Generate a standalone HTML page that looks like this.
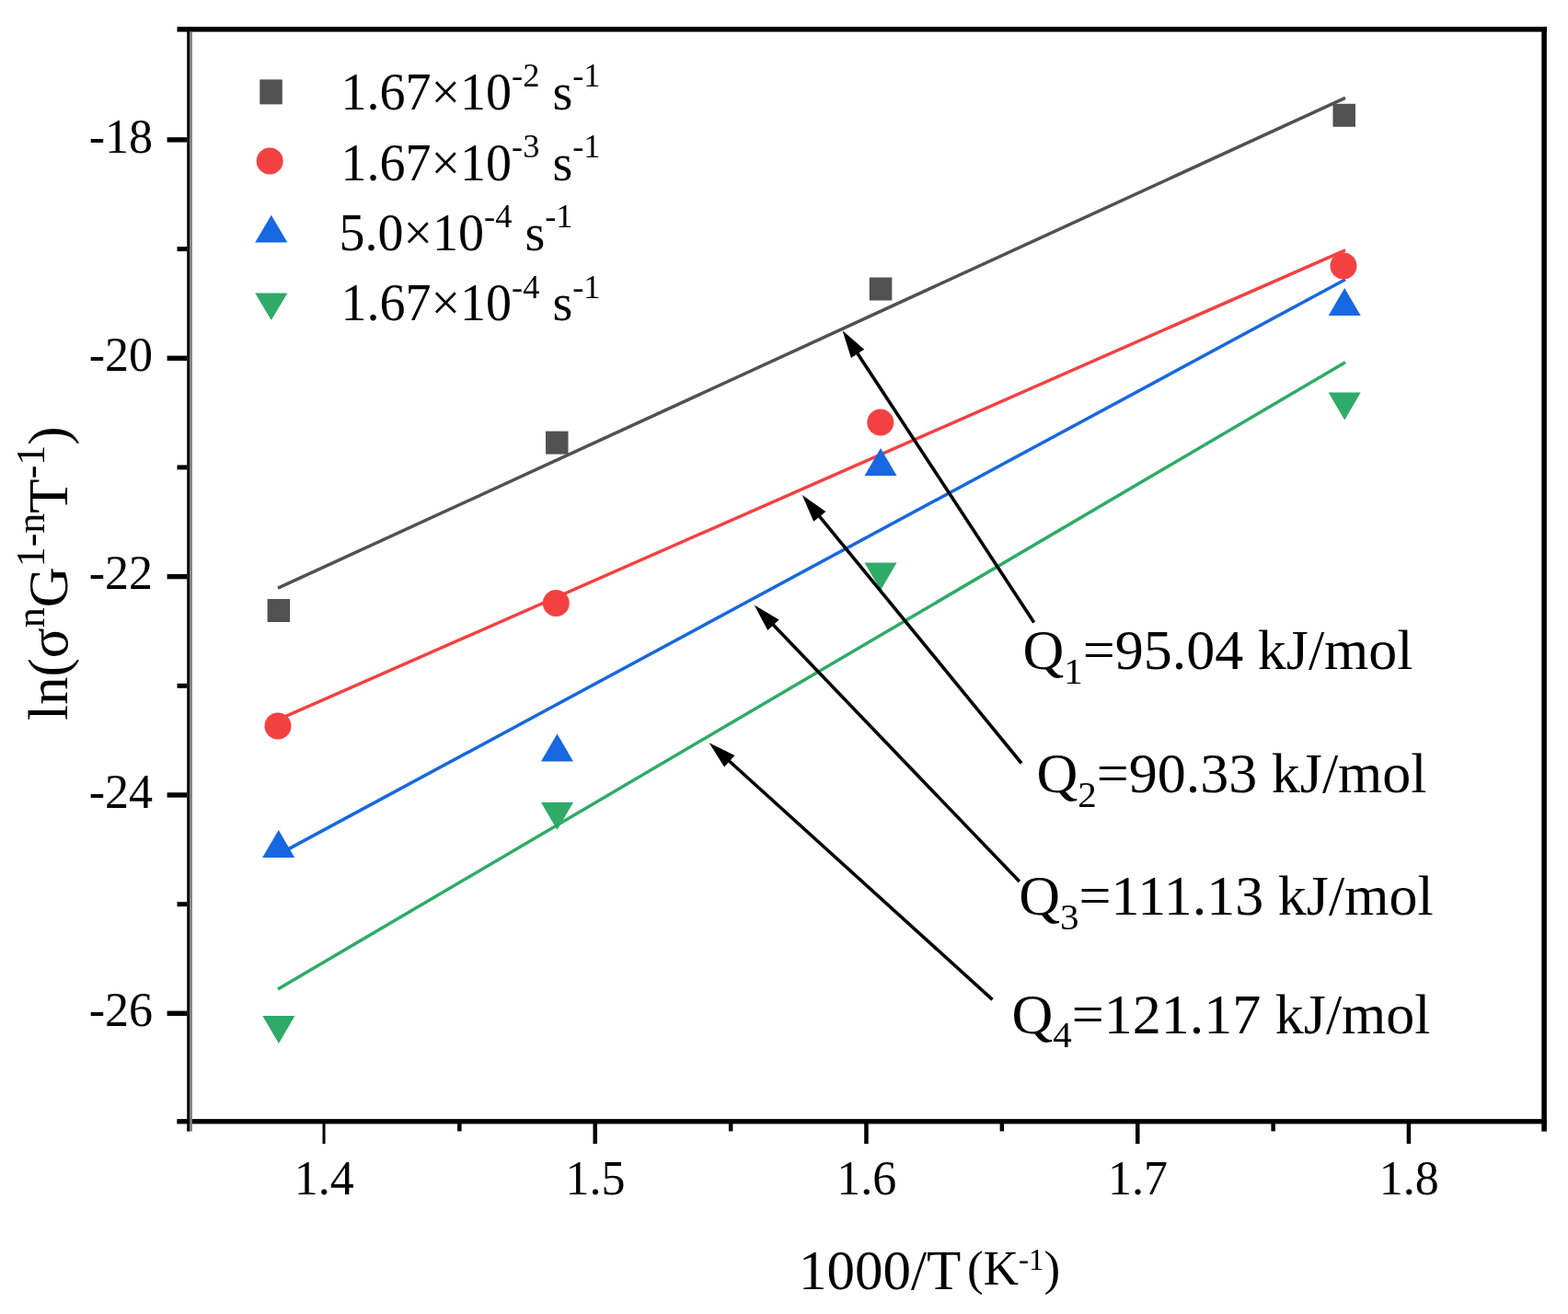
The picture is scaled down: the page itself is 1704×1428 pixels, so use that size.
<!DOCTYPE html>
<html><head><meta charset="utf-8"><title>ln plot</title>
<style>html,body{margin:0;padding:0;background:#fff;width:1704px;height:1428px;overflow:hidden;} svg{display:block;}</style>
</head><body>
<svg width="1704" height="1428" viewBox="0 0 1704 1428">
<rect width="1704" height="1428" fill="#fff"/>
<rect x="192.5" y="29.1" width="1488.5" height="5.5" fill="#000"/>
<rect x="192.3" y="1216.1" width="1488.7" height="5.3" fill="#000"/>
<rect x="203.2" y="29.1" width="2.9" height="1200.5" fill="#000"/>
<rect x="206.1" y="34.6" width="2.8" height="1195.0" fill="#808080"/>
<rect x="1675.3" y="29.1" width="5.6" height="1200.5" fill="#000"/>
<rect x="181.6" y="1098.6" width="21.6" height="5.4" fill="#000"/>
<rect x="192.5" y="980.2" width="10.7" height="5" fill="#000"/>
<rect x="181.6" y="861.3" width="21.6" height="5.4" fill="#000"/>
<rect x="192.5" y="742.8" width="10.7" height="5" fill="#000"/>
<rect x="181.6" y="623.9" width="21.6" height="5.4" fill="#000"/>
<rect x="192.5" y="505.4" width="10.7" height="5" fill="#000"/>
<rect x="181.6" y="386.6" width="21.6" height="5.4" fill="#000"/>
<rect x="192.5" y="268.1" width="10.7" height="5" fill="#000"/>
<rect x="181.6" y="149.2" width="21.6" height="5.4" fill="#000"/>
<rect x="350.5" y="1221" width="3" height="22" fill="#000"/>
<rect x="497.1" y="1221" width="4.5" height="8.4" fill="#000"/>
<rect x="644.5" y="1221" width="4.5" height="22" fill="#000"/>
<rect x="791.9" y="1221" width="4.5" height="8.4" fill="#000"/>
<rect x="939.2" y="1221" width="4.5" height="22" fill="#000"/>
<rect x="1086.6" y="1221" width="4.5" height="8.4" fill="#000"/>
<rect x="1234.0" y="1221" width="4.5" height="22" fill="#000"/>
<rect x="1381.4" y="1221" width="4.5" height="8.4" fill="#000"/>
<rect x="1528.7" y="1221" width="4.5" height="22" fill="#000"/>
<text x="166" y="165.5" text-anchor="end" font-family='"Liberation Serif", serif' font-size="52" fill="#000">-18</text>
<text x="166" y="402.9" text-anchor="end" font-family='"Liberation Serif", serif' font-size="52" fill="#000">-20</text>
<text x="166" y="640.2" text-anchor="end" font-family='"Liberation Serif", serif' font-size="52" fill="#000">-22</text>
<text x="166" y="877.6" text-anchor="end" font-family='"Liberation Serif", serif' font-size="52" fill="#000">-24</text>
<text x="166" y="1114.9" text-anchor="end" font-family='"Liberation Serif", serif' font-size="52" fill="#000">-26</text>
<text x="352.2" y="1297.5" text-anchor="middle" font-family='"Liberation Serif", serif' font-size="52" fill="#000">1.4</text>
<text x="647.0" y="1297.5" text-anchor="middle" font-family='"Liberation Serif", serif' font-size="52" fill="#000">1.5</text>
<text x="941.7" y="1297.5" text-anchor="middle" font-family='"Liberation Serif", serif' font-size="52" fill="#000">1.6</text>
<text x="1236.5" y="1297.5" text-anchor="middle" font-family='"Liberation Serif", serif' font-size="52" fill="#000">1.7</text>
<text x="1531.2" y="1297.5" text-anchor="middle" font-family='"Liberation Serif", serif' font-size="52" fill="#000">1.8</text>
<line x1="302" y1="639.2" x2="1462" y2="106.3" stroke="#515151" stroke-width="3.5"/>
<line x1="302" y1="782.2" x2="1462" y2="271.8" stroke="#F34141" stroke-width="3.5"/>
<line x1="302" y1="928.9" x2="1462" y2="303.8" stroke="#1768E0" stroke-width="3.5"/>
<line x1="302" y1="1074.9" x2="1462" y2="393.7" stroke="#2EAB68" stroke-width="3.5"/>
<rect x="290.6" y="651.0" width="24.5" height="25" fill="#515151"/>
<rect x="593.0" y="468.6" width="24.5" height="25" fill="#515151"/>
<rect x="944.8" y="301.5" width="24.5" height="25" fill="#515151"/>
<rect x="1448.5" y="112.8" width="24.5" height="25" fill="#515151"/>
<circle cx="302" cy="789" r="14.5" fill="#F34141"/>
<circle cx="604.3" cy="655.4" r="14.5" fill="#F34141"/>
<circle cx="956.8" cy="459" r="14.5" fill="#F34141"/>
<circle cx="1460" cy="289" r="14.5" fill="#F34141"/>
<polygon points="302.7,902.0 320.2,932.0 285.2,932.0" fill="#1768E0"/>
<polygon points="605.5,797.4 623.0,827.4 588.0,827.4" fill="#1768E0"/>
<polygon points="957.0,487.0 974.5,517.0 939.5,517.0" fill="#1768E0"/>
<polygon points="1461.2,312.9 1478.7,342.9 1443.7,342.9" fill="#1768E0"/>
<polygon points="285.4,1104.0 320.4,1104.0 302.9,1134.0" fill="#2EAB68"/>
<polygon points="588.0,872.0 623.0,872.0 605.5,902.0" fill="#2EAB68"/>
<polygon points="939.5,611.4 974.5,611.4 957.0,641.4" fill="#2EAB68"/>
<polygon points="1443.7,426.5 1478.7,426.5 1461.2,456.5" fill="#2EAB68"/>
<rect x="282.3" y="86.4" width="24.5" height="27" fill="#515151"/>
<circle cx="293.2" cy="175" r="14.5" fill="#F34141"/>
<polygon points="294.8,233.7 312.4,263.6 277.2,263.6" fill="#1768E0"/>
<polygon points="277.2,318.5 312.4,318.5 294.8,347.9" fill="#2EAB68"/>
<text x="370.5" y="119" font-family='"Liberation Serif", serif' font-size="56" fill="#000">1.67×10<tspan font-size="36.4" dy="-24.7">-2</tspan><tspan dy="24.7"> s</tspan><tspan font-size="36.4" dy="-24.7">-1</tspan></text>
<text x="370.5" y="195.6" font-family='"Liberation Serif", serif' font-size="56" fill="#000">1.67×10<tspan font-size="36.4" dy="-24.7">-3</tspan><tspan dy="24.7"> s</tspan><tspan font-size="36.4" dy="-24.7">-1</tspan></text>
<text x="368.5" y="271.6" font-family='"Liberation Serif", serif' font-size="56" fill="#000">5.0×10<tspan font-size="36.4" dy="-24.7">-4</tspan><tspan dy="24.7"> s</tspan><tspan font-size="36.4" dy="-24.7">-1</tspan></text>
<text x="370.5" y="348.2" font-family='"Liberation Serif", serif' font-size="56" fill="#000">1.67×10<tspan font-size="36.4" dy="-24.7">-4</tspan><tspan dy="24.7"> s</tspan><tspan font-size="36.4" dy="-24.7">-1</tspan></text>
<text x="1111.5" y="726.8" font-family='"Liberation Serif", serif' font-size="62" fill="#000">Q<tspan font-size="41" dy="15.8">1</tspan><tspan dy="-15.8">=95.04 kJ/mol</tspan></text>
<text x="1126.5" y="860.7" font-family='"Liberation Serif", serif' font-size="62" fill="#000">Q<tspan font-size="41" dy="15.8">2</tspan><tspan dy="-15.8">=90.33 kJ/mol</tspan></text>
<text x="1107.2" y="994.4" font-family='"Liberation Serif", serif' font-size="62" fill="#000">Q<tspan font-size="41" dy="15.8">3</tspan><tspan dy="-15.8">=111.13 kJ/mol</tspan></text>
<text x="1099.5" y="1122.6" font-family='"Liberation Serif", serif' font-size="62" fill="#000">Q<tspan font-size="41" dy="15.8">4</tspan><tspan dy="-15.8">=121.17 kJ/mol</tspan></text>
<line x1="1123.7" y1="676.5" x2="931.0" y2="382.7" stroke="#000" stroke-width="3.6"/>
<polygon points="915.6,359.3 939.2,379.7 924.9,389.0" fill="#000"/>
<line x1="1110.1" y1="829.5" x2="889.5" y2="559.8" stroke="#000" stroke-width="3.6"/>
<polygon points="871.8,538.1 897.4,555.9 884.2,566.7" fill="#000"/>
<line x1="1107.9" y1="958.1" x2="839.1" y2="677.8" stroke="#000" stroke-width="3.6"/>
<polygon points="819.7,657.6 846.6,673.4 834.3,685.1" fill="#000"/>
<line x1="1078.5" y1="1086.3" x2="791.3" y2="826.0" stroke="#000" stroke-width="3.6"/>
<polygon points="770.6,807.2 798.5,821.1 787.1,833.6" fill="#000"/>
<text x="868" y="1401" font-family='"Liberation Serif", serif' font-size="61" fill="#000">1000/T</text>
<text x="1051" y="1396" font-family='"Liberation Serif", serif' font-size="53" fill="#000">(K<tspan font-size="33" dy="-16.5">-1</tspan><tspan dy="16.5">)</tspan></text>
<text transform="translate(73,783) rotate(-90)" x="0" y="0" font-family='"Liberation Serif", serif' font-size="61" fill="#000">ln(σ<tspan font-size="44" dy="-24.6">n</tspan><tspan dy="24.6">G</tspan><tspan font-size="44" dy="-24.6">1-n</tspan><tspan dy="24.6">T</tspan><tspan font-size="44" dy="-24.6">-1</tspan><tspan dy="24.6">)</tspan></text>
</svg>
</body></html>
